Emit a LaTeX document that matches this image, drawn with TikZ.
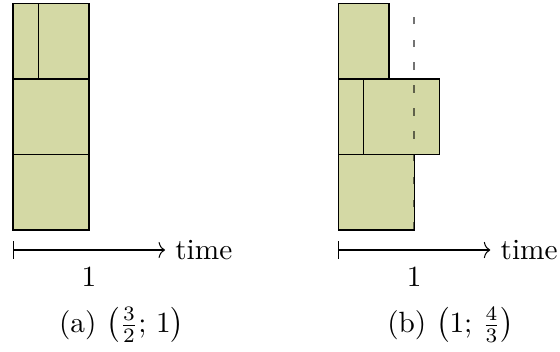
\documentclass[tikz,border=0pt]{standalone}
\usetikzlibrary{arrows.meta}
\definecolor{blkfill}{RGB}{212,217,165}
\begin{document}
\begin{tikzpicture}[x=0.912cm,y=0.906cm,
  blk/.style={draw=black,fill=blkfill,line width=0.45pt},
  limit/.style={draw=black,opacity=0.55,line width=0.6pt,dash pattern=on 2.6pt off 5.2pt},
  axis/.style={draw=black,line width=0.35pt,{Bar[width=6pt]}-{To[length=2.2pt,width=5.5pt]}},
  lbl/.style={inner sep=0pt}]
\useasboundingbox (-0.171,-1.603) rectangle (7.197,3.046);
% ---------- (a)
\begin{scope}
  \draw[blk] (0,2) rectangle (1/3,3);
  \draw[blk] (1/3,2) rectangle (1,3);
  \draw[blk] (0,1) rectangle (1,2);
  \draw[blk] (0,0) rectangle (1,1);
  \draw[limit] (1,0) -- (1,3);
  \coordinate (a0) at (0,-0.265);
  \coordinate (a2) at (2,-0.265);
  \draw[axis] (a0) -- (a2);
  \node[anchor=west] (atime) at (a2) {time};
  \node[lbl] (aone) at (1,-0.62) {1};
  \node[lbl] (acap) at (1.43,-1.26) {(a) $\left(\frac{3}{2};\,1\right)$};
\end{scope}
% ---------- (b)
\begin{scope}[xshift=4.28*0.912cm]
  \draw[blk] (0,2) rectangle (2/3,3);
  \draw[blk] (0,1) rectangle (1/3,2);
  \draw[blk] (1/3,1) rectangle (4/3,2);
  \draw[blk] (0,0) rectangle (1,1);
  \draw[limit] (1,0) -- (1,3);
  \coordinate (b0) at (0,-0.265);
  \coordinate (b2) at (2,-0.265);
  \draw[axis] (b0) -- (b2);
  \node[anchor=west] (btime) at (b2) {time};
  \node[lbl] (bone) at (1,-0.62) {1};
  \node[lbl] (bcap) at (1.48,-1.26) {(b) $\left(1;\,\frac{4}{3}\right)$};
\end{scope}
\end{tikzpicture}
\end{document}
